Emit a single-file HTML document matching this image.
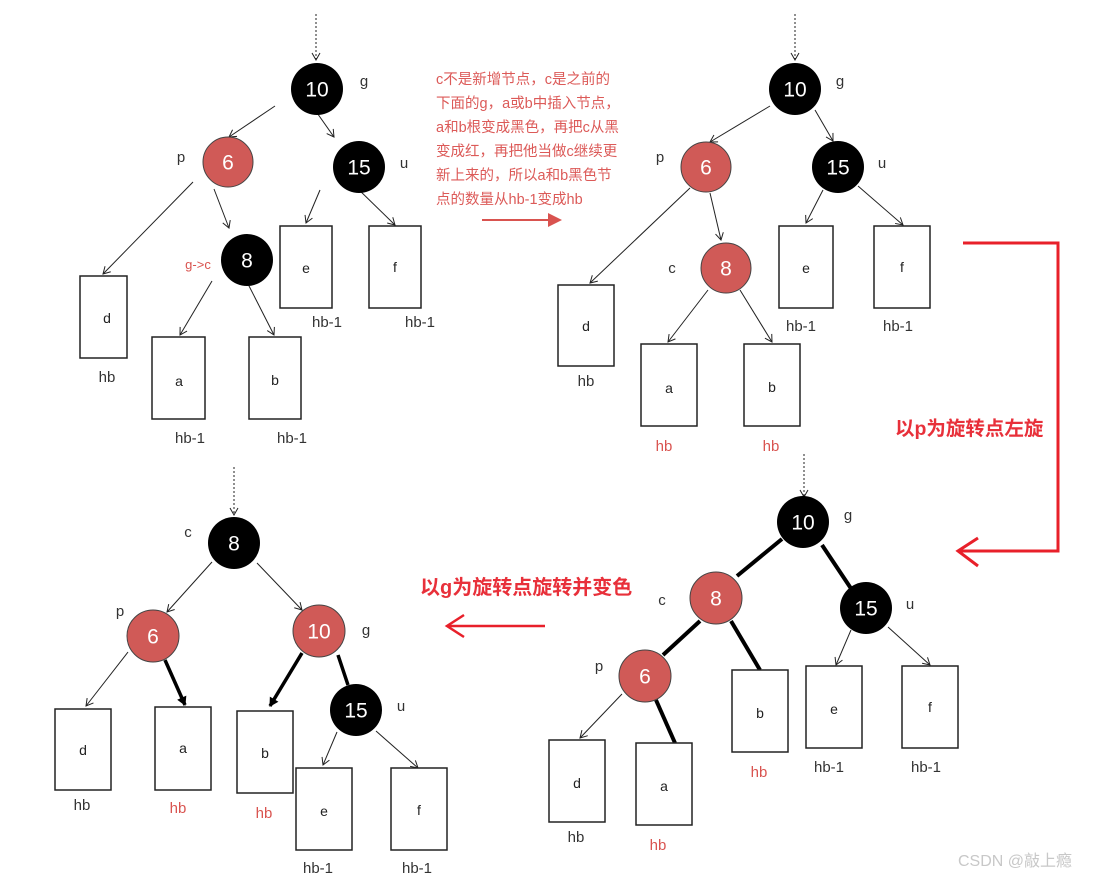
<!DOCTYPE html>
<html><head><meta charset="utf-8"><style>
html,body{margin:0;padding:0;background:#fff;}
svg{display:block;}
text{font-family:"Liberation Sans","Noto Sans CJK SC",sans-serif;}
.n{font-size:21px;fill:#fff;text-anchor:middle;dominant-baseline:central;}
.l{font-size:15px;fill:#333;text-anchor:middle;}
.s{font-size:14px;fill:#222;text-anchor:middle;dominant-baseline:central;}
.r{fill:#d9534f;}
.t{stroke:#222;stroke-width:1;fill:none;}
.k{stroke:#000;stroke-width:4;fill:none;}
.bx{fill:#fff;stroke:#222;stroke-width:1.5;}
</style></head><body>
<svg width="1112" height="880" viewBox="0 0 1112 880">
<defs>
<marker id="a" markerWidth="10" markerHeight="10" refX="8" refY="5" orient="auto" markerUnits="userSpaceOnUse"><path d="M1,1 L8,5 L1,9" fill="none" stroke="#222" stroke-width="1"/></marker>
<marker id="ak" markerWidth="12" markerHeight="12" refX="9" refY="6" orient="auto" markerUnits="userSpaceOnUse"><path d="M1,1 L10,6 L1,11 Z" fill="#000"/></marker>
</defs>

<!-- TOP LEFT -->
<line x1="316" y1="14" x2="316" y2="60" stroke="#222" stroke-dasharray="2,2" marker-end="url(#a)"/>
<g class="t" marker-end="url(#a)">
<line x1="275" y1="106" x2="229" y2="137"/>
<line x1="315" y1="110" x2="334" y2="137"/>
<line x1="193" y1="182" x2="103" y2="274"/>
<line x1="214" y1="189" x2="229" y2="228"/>
<line x1="212" y1="281" x2="180" y2="335"/>
<line x1="247" y1="282" x2="274" y2="335"/>
<line x1="320" y1="190" x2="306" y2="223"/>
<line x1="355" y1="186" x2="395" y2="225"/>
</g>
<circle cx="317" cy="89" r="26" fill="#000"/><text class="n" x="317" y="90">10</text>
<circle cx="228" cy="162" r="25" fill="#d05a57" stroke="#444"/><text class="n" x="228" y="163">6</text>
<circle cx="359" cy="167" r="26" fill="#000"/><text class="n" x="359" y="168">15</text>
<circle cx="247" cy="260" r="26" fill="#000"/><text class="n" x="247" y="261">8</text>
<text class="l" x="364" y="86">g</text><text class="l" x="181" y="162">p</text><text class="l" x="404" y="168">u</text>
<text class="l r" x="198" y="269" style="font-size:13px">g-&gt;c</text>
<rect class="bx" x="80" y="276" width="47" height="82"/><text class="s" x="107" y="318">d</text><text class="l" x="107" y="382">hb</text>
<rect class="bx" x="152" y="337" width="53" height="82"/><text class="s" x="179" y="381">a</text><text class="l" x="190" y="443">hb-1</text>
<rect class="bx" x="249" y="337" width="52" height="82"/><text class="s" x="275" y="380">b</text><text class="l" x="292" y="443">hb-1</text>
<rect class="bx" x="280" y="226" width="52" height="82"/><text class="s" x="306" y="268">e</text><text class="l" x="327" y="327">hb-1</text>
<rect class="bx" x="369" y="226" width="52" height="82"/><text class="s" x="395" y="267">f</text><text class="l" x="420" y="327">hb-1</text>

<!-- annotation -->
<g class="r" style="font-size:14.5px;fill:#dc5a58">
<text x="436" y="84">c不是新增节点，c是之前的</text>
<text x="436" y="108">下面的g，a或b中插入节点，</text>
<text x="436" y="132">a和b根变成黑色，再把c从黑</text>
<text x="436" y="156">变成红，再把他当做c继续更</text>
<text x="436" y="180">新上来的，所以a和b黑色节</text>
<text x="436" y="204">点的数量从hb-1变成hb</text>
</g>
<line x1="482" y1="220" x2="550" y2="220" stroke="#d9534f" stroke-width="2"/>
<path d="M548,213 L562,220 L548,227 Z" fill="#d9534f"/>

<!-- TOP RIGHT -->
<line x1="795" y1="14" x2="795" y2="60" stroke="#222" stroke-dasharray="2,2" marker-end="url(#a)"/>
<g class="t" marker-end="url(#a)">
<line x1="770" y1="106" x2="710" y2="142"/>
<line x1="815" y1="110" x2="833" y2="141"/>
<line x1="690" y1="188" x2="590" y2="283"/>
<line x1="710" y1="193" x2="721" y2="240"/>
<line x1="708" y1="290" x2="668" y2="342"/>
<line x1="740" y1="290" x2="772" y2="342"/>
<line x1="823" y1="190" x2="806" y2="223"/>
<line x1="858" y1="186" x2="903" y2="225"/>
</g>
<circle cx="795" cy="89" r="26" fill="#000"/><text class="n" x="795" y="90">10</text>
<circle cx="706" cy="167" r="25" fill="#d05a57" stroke="#444"/><text class="n" x="706" y="168">6</text>
<circle cx="838" cy="167" r="26" fill="#000"/><text class="n" x="838" y="168">15</text>
<circle cx="726" cy="268" r="25" fill="#d05a57" stroke="#444"/><text class="n" x="726" y="269">8</text>
<text class="l" x="840" y="86">g</text><text class="l" x="660" y="162">p</text><text class="l" x="882" y="168">u</text><text class="l" x="672" y="273">c</text>
<rect class="bx" x="558" y="285" width="56" height="81"/><text class="s" x="586" y="326">d</text><text class="l" x="586" y="386">hb</text>
<rect class="bx" x="641" y="344" width="56" height="82"/><text class="s" x="669" y="388">a</text><text class="l r" x="664" y="451">hb</text>
<rect class="bx" x="744" y="344" width="56" height="82"/><text class="s" x="772" y="387">b</text><text class="l r" x="771" y="451">hb</text>
<rect class="bx" x="779" y="226" width="54" height="82"/><text class="s" x="806" y="268">e</text><text class="l" x="801" y="331">hb-1</text>
<rect class="bx" x="874" y="226" width="56" height="82"/><text class="s" x="902" y="267">f</text><text class="l" x="898" y="331">hb-1</text>

<!-- red bracket -->
<path d="M963,243 L1058,243 L1058,551 L958,551" fill="none" stroke="#e8202a" stroke-width="3"/>
<path d="M978,538 L958,551 L978,566" fill="none" stroke="#e8202a" stroke-width="3"/>
<text x="895" y="435" style="font-size:19.5px;font-weight:bold;fill:#e8303a">以p为旋转点左旋</text>

<!-- BOTTOM RIGHT -->
<line x1="804" y1="454" x2="804" y2="497" stroke="#222" stroke-dasharray="2,2" marker-end="url(#a)"/>
<g class="k">
<line x1="782" y1="539" x2="737" y2="576"/>
<line x1="822" y1="545" x2="852" y2="590"/>
<line x1="700" y1="621" x2="663" y2="655"/>
<line x1="731" y1="621" x2="760" y2="670"/>
<line x1="656" y1="700" x2="675" y2="743"/>
</g>
<g class="t" marker-end="url(#a)">
<line x1="622" y1="694" x2="580" y2="738"/>
<line x1="851" y1="630" x2="836" y2="665"/>
<line x1="888" y1="627" x2="930" y2="665"/>
</g>
<circle cx="803" cy="522" r="26" fill="#000"/><text class="n" x="803" y="523">10</text>
<circle cx="716" cy="598" r="26" fill="#d05a57" stroke="#444"/><text class="n" x="716" y="599">8</text>
<circle cx="866" cy="608" r="26" fill="#000"/><text class="n" x="866" y="609">15</text>
<circle cx="645" cy="676" r="26" fill="#d05a57" stroke="#444"/><text class="n" x="645" y="677">6</text>
<text class="l" x="848" y="520">g</text><text class="l" x="662" y="605">c</text><text class="l" x="910" y="609">u</text><text class="l" x="599" y="671">p</text>
<rect class="bx" x="549" y="740" width="56" height="82"/><text class="s" x="577" y="783">d</text><text class="l" x="576" y="842">hb</text>
<rect class="bx" x="636" y="743" width="56" height="82"/><text class="s" x="664" y="786">a</text><text class="l r" x="658" y="850">hb</text>
<rect class="bx" x="732" y="670" width="56" height="82"/><text class="s" x="760" y="713">b</text><text class="l r" x="759" y="777">hb</text>
<rect class="bx" x="806" y="666" width="56" height="82"/><text class="s" x="834" y="709">e</text><text class="l" x="829" y="772">hb-1</text>
<rect class="bx" x="902" y="666" width="56" height="82"/><text class="s" x="930" y="707">f</text><text class="l" x="926" y="772">hb-1</text>

<!-- middle red arrow -->
<text x="420" y="594" style="font-size:20px;font-weight:bold;fill:#e8303a">以g为旋转点旋转并变色</text>
<line x1="545" y1="626" x2="448" y2="626" stroke="#e8202a" stroke-width="2.5"/>
<path d="M464,615 L447,626 L464,637" fill="none" stroke="#e8202a" stroke-width="2.5"/>

<!-- BOTTOM LEFT -->
<line x1="234" y1="467" x2="234" y2="515" stroke="#222" stroke-dasharray="2,2" marker-end="url(#a)"/>
<g class="t" marker-end="url(#a)">
<line x1="212" y1="562" x2="167" y2="612"/>
<line x1="257" y1="563" x2="302" y2="610"/>
<line x1="128" y1="652" x2="86" y2="706"/>
<line x1="337" y1="732" x2="323" y2="765"/>
<line x1="376" y1="731" x2="418" y2="768"/>
</g>
<g stroke="#000" stroke-width="3.5" fill="none">
<line x1="165" y1="660" x2="185" y2="705" marker-end="url(#ak)"/>
<line x1="302" y1="653" x2="270" y2="706" marker-end="url(#ak)"/>
<line x1="338" y1="655" x2="348" y2="685"/>
</g>
<circle cx="234" cy="543" r="26" fill="#000"/><text class="n" x="234" y="544">8</text>
<circle cx="153" cy="636" r="26" fill="#d05a57" stroke="#444"/><text class="n" x="153" y="637">6</text>
<circle cx="319" cy="631" r="26" fill="#d05a57" stroke="#444"/><text class="n" x="319" y="632">10</text>
<circle cx="356" cy="710" r="26" fill="#000"/><text class="n" x="356" y="711">15</text>
<text class="l" x="188" y="537">c</text><text class="l" x="120" y="616">p</text><text class="l" x="366" y="635">g</text><text class="l" x="401" y="711">u</text>
<rect class="bx" x="55" y="709" width="56" height="81"/><text class="s" x="83" y="750">d</text><text class="l" x="82" y="810">hb</text>
<rect class="bx" x="155" y="707" width="56" height="83"/><text class="s" x="183" y="748">a</text><text class="l r" x="178" y="813">hb</text>
<rect class="bx" x="237" y="711" width="56" height="82"/><text class="s" x="265" y="753">b</text><text class="l r" x="264" y="818">hb</text>
<rect class="bx" x="296" y="768" width="56" height="82"/><text class="s" x="324" y="811">e</text><text class="l" x="318" y="873">hb-1</text>
<rect class="bx" x="391" y="768" width="56" height="82"/><text class="s" x="419" y="810">f</text><text class="l" x="417" y="873">hb-1</text>

<text x="958" y="866" style="font-size:16px;fill:#c8c8c8">CSDN @敲上瘾</text>
</svg>
</body></html>
